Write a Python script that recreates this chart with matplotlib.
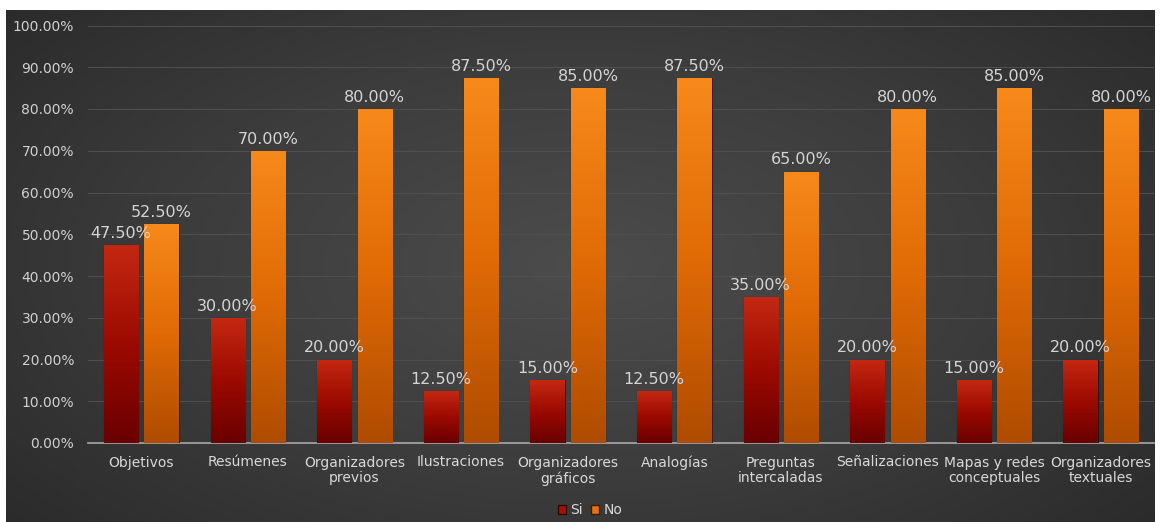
import numpy as np
import matplotlib
matplotlib.use('Agg')
from matplotlib import pyplot as plt
from matplotlib.colors import LinearSegmentedColormap
from matplotlib.patches import Patch

categories = ['Objetivos', 'Resúmenes', 'Organizadores\nprevios', 'Ilustraciones',
              'Organizadores\ngráficos', 'Analogías', 'Preguntas\nintercaladas',
              'Señalizaciones', 'Mapas y redes\nconceptuales', 'Organizadores\ntextuales']
si = [47.5, 30.0, 20.0, 12.5, 15.0, 12.5, 35.0, 20.0, 15.0, 20.0]
no = [52.5, 70.0, 80.0, 87.5, 85.0, 87.5, 65.0, 80.0, 85.0, 80.0]

W, H = 1161, 522
fig = plt.figure(figsize=(W / 100, H / 100), dpi=100)

# dark radial background of the chart area
bg = fig.add_axes([6 / W, 0, 1149 / W, 512 / H])
yy, xx = np.mgrid[-1:1:200j, -1:1:400j]
r = np.sqrt((xx / 1.1) ** 2 + (yy / 1.3) ** 2)
bg_cmap = LinearSegmentedColormap.from_list('bg', ['#4c4c4c', '#3c3c3c', '#282828'])
bg.imshow(r, cmap=bg_cmap, aspect='auto', vmin=0, vmax=1.3)
bg.axis('off')

ax = fig.add_axes([88 / W, 79 / H, 1066 / W, 417.5 / H])
ax.set_facecolor('none')

x = np.arange(len(categories))
w = 0.32
off = 0.19

red_cmap = LinearSegmentedColormap.from_list('r', ['#6a0000', '#9c0a00', '#c42812'])
org_cmap = LinearSegmentedColormap.from_list('o', ['#b04c00', '#e06a05', '#f7891a'])

bars_si = ax.bar(x - off, si, w, color='#a80f00', edgecolor='#2e0800', linewidth=0.8, zorder=3)
bars_no = ax.bar(x + off, no, w, color='#e87010', edgecolor='#3e1a00', linewidth=0.8, zorder=3)

grad = np.linspace(0, 1, 100).reshape(-1, 1)
for bars, cmap in ((bars_si, red_cmap), (bars_no, org_cmap)):
    for b in bars:
        x0, y0 = b.get_x(), b.get_y()
        im = ax.imshow(grad, cmap=cmap, origin='lower', aspect='auto',
                       extent=[x0, x0 + b.get_width(), y0, y0 + b.get_height()], zorder=3.5)
        im.set_clip_path(b)

for xi, v in zip(x, si):
    ax.text(xi - off, v + 1, f'{v:.2f}%', ha='center', va='bottom', fontsize=11.5,
            color='#d4d4d4', zorder=5)
for xi, v in zip(x, no):
    ax.text(xi + off, v + 1, f'{v:.2f}%', ha='center', va='bottom', fontsize=11.5,
            color='#d4d4d4', zorder=5)

ax.set_xlim(-0.5, len(categories) - 0.5)
ax.set_ylim(0, 100)
ax.set_yticks(np.arange(0, 101, 10))
ax.set_yticklabels([f'{t:.2f}%' for t in np.arange(0, 101, 10)])
ax.set_xticks(x)
ax.set_xticklabels(categories, linespacing=1.15)
ax.tick_params(axis='y', colors='#d0d0d0', labelsize=10, length=0, pad=10)
ax.tick_params(axis='x', colors='#d8d8d8', labelsize=10, length=0, pad=9)
ax.grid(axis='y', color='#505050', linewidth=0.7, zorder=0)
for s in ('top', 'right', 'left'):
    ax.spines[s].set_visible(False)
ax.spines['bottom'].set_color('#a8a8a8')
ax.spines['bottom'].set_linewidth(1.2)

handles = [Patch(facecolor='#a80f00', edgecolor='#2e0800', label='Si'),
           Patch(facecolor='#e87010', edgecolor='#3e1a00', label='No')]
leg = fig.legend(handles=handles, loc='center', bbox_to_anchor=(590 / W, 12 / H), ncol=2,
                 frameon=False, fontsize=10, handlelength=0.6, handleheight=0.6,
                 handletextpad=0.3, columnspacing=0.6)
for t in leg.get_texts():
    t.set_color('#d8d8d8')

fig.savefig('out.png', dpi=100, facecolor='white')
